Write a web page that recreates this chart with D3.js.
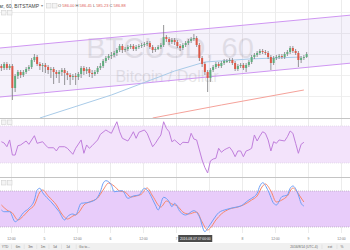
<!DOCTYPE html>
<html>
<head>
<meta charset="utf-8">
<script src="https://cdn.jsdelivr.net/npm/d3@7"></script>
<style>
body { margin: 0; background: #fff; }
svg { display: block; font-family: "Liberation Sans", Arial, sans-serif; }
</style>
</head>
<body>
<svg width="350" height="250"></svg>
<script>
// hourly BTCUSD candles, Bitstamp, starting 2016-08-04 08:00
var candleOpen = [585.4,585.2,585.6,585.2,585.4,583.2,584.4,584.8,584.5,584.8,
  585.1,585.3,586.0,586.3,585.6,585.4,585.5,585.3,585.0,585.1,
  584.8,584.6,584.8,585.0,584.7,584.5,584.3,584.4,584.3,584.6,
  585.2,584.9,585.1,584.7,584.6,584.8,585.2,585.4,585.9,586.2,
  586.4,586.5,586.7,587.0,587.4,587.0,587.1,587.3,587.4,587.1,
  587.3,587.4,587.5,587.6,587.7,587.3,587.0,587.1,587.3,587.5,
  588.3,588.1,587.8,588.0,587.8,587.4,587.2,587.5,587.7,587.9,
  588.1,588.2,587.5,586.2,585.6,584.8,584.2,585.0,585.3,585.6,
  585.4,585.7,585.9,585.9,586.0,585.7,585.1,585.4,585.5,585.2,
  585.5,585.8,586.3,586.5,586.7,586.9,586.8,586.7,586.3,585.7,
  586.2,586.3,586.4,586.3,586.6,586.8,587.2,586.9,586.7,586.0,
  586.2,586.3];
var candleHigh = [585.6,585.8,585.8,585.6,585.6,584.6,585.0,585.0,585.0,585.3,
  585.5,586.2,586.6,586.5,585.8,585.7,585.7,585.5,585.3,585.3,
  585.0,585.0,585.2,585.2,584.9,584.7,584.6,584.7,584.8,585.4,
  585.4,585.3,585.3,585.0,585.0,585.4,585.7,586.1,586.4,586.6,
  586.8,586.9,587.2,587.6,587.6,587.3,587.5,587.6,587.6,587.5,
  587.6,587.7,587.8,587.9,587.9,587.5,587.3,587.5,587.7,589.5,
  588.5,588.3,588.2,588.2,588.0,587.6,587.7,587.9,588.1,588.3,
  588.6,588.4,587.7,586.4,585.8,585.0,585.2,585.5,585.8,585.8,
  585.9,586.1,586.1,586.2,586.2,585.9,585.6,585.7,585.7,585.7,
  586.0,586.5,586.7,586.9,587.1,587.1,587.0,586.9,586.5,586.4,
  586.5,586.6,586.6,586.8,587.0,587.4,587.4,587.1,586.9,586.4,
  586.5,586.8];
var candleLow = [584.9,585.0,585.0,585.0,582.0,582.8,584.1,584.2,584.3,584.6,
  584.9,585.1,585.8,585.4,585.0,584.8,584.7,584.6,584.2,583.6,
  584.2,583.7,584.4,583.5,584.0,583.5,584.0,583.5,584.0,584.2,
  584.5,584.6,584.3,584.2,584.4,584.6,585.0,585.2,585.7,586.0,
  586.1,586.3,586.4,586.8,586.7,586.8,586.9,587.1,586.9,586.9,
  587.1,587.2,587.3,587.4,587.1,586.7,586.8,587.0,587.1,587.3,
  587.8,587.5,587.6,587.5,587.2,586.9,587.0,587.3,587.5,587.7,
  587.9,587.3,585.9,585.3,584.5,582.8,583.8,584.8,585.1,585.2,
  585.2,585.5,585.7,585.7,585.5,584.9,584.9,585.2,585.0,584.8,
  585.3,585.6,586.1,586.3,586.5,586.6,586.5,586.1,585.0,585.5,
  586.0,586.1,586.1,586.1,586.4,586.6,586.7,586.5,585.3,585.7,
  586.0,586.2];
var candleClose = [585.2,585.6,585.2,585.4,583.2,584.4,584.8,584.5,584.8,585.1,
  585.3,586.0,586.3,585.6,585.4,585.5,585.3,585.0,585.1,584.8,
  584.6,584.8,585.0,584.7,584.5,584.3,584.4,584.3,584.6,585.2,
  584.9,585.1,584.7,584.6,584.8,585.2,585.4,585.9,586.2,586.4,
  586.5,586.7,587.0,587.4,587.0,587.1,587.3,587.4,587.1,587.3,
  587.4,587.5,587.6,587.7,587.3,587.0,587.1,587.3,587.5,588.3,
  588.1,587.8,588.0,587.8,587.4,587.2,587.5,587.7,587.9,588.1,
  588.2,587.5,586.2,585.6,584.8,584.2,585.0,585.3,585.6,585.4,
  585.7,585.9,585.9,586.0,585.7,585.1,585.4,585.5,585.2,585.5,
  585.8,586.3,586.5,586.7,586.9,586.8,586.7,586.3,585.7,586.2,
  586.3,586.4,586.3,586.6,586.8,587.2,586.9,586.7,586.0,586.2,
  586.3,586.6];

// moving averages (candle index, price)
var maFastHours = [14, 40, 63, 74, 90, 109];
var maFastValues = [580.2, 582.5, 584.9, 585.8, 586.1, 586.3];
var maSlowHours = [55, 80, 110];
var maSlowValues = [580.2, 581.5, 583.0];

// parallel channel drawing
var channelHours = [0, 128];
var channelUpper = [587.2, 590.5];
var channelLower = [582.3, 585.7];

// RSI (candle index, value)
var rsiHours = [0,1,2,3,4,5,6,7,9,10,12,13,15,16,17,19,20,21,23,24,26,27,29,30,31,32,33,35,36,38,39,40,42,43,44,46,47,48,49,50,52,53,55,56,57,58,59,60,61,62,63,65,66,68,69,70,71,72,73,74,75,76,77,78,79,80,81,82,83,84,85,86,87,88,89,90,91,92,93,94,95,96,97,98,99,100,101,103,104,105,106,107,108,109,110];
var rsiValues = [53.0,51.6,47.6,54.9,38.6,38.6,48.7,49.5,53.8,50.2,59.5,51.3,53.0,49.5,46.5,46.5,43.0,47.6,47.6,45.9,39.4,45.9,54.9,40.5,49.5,45.9,48.7,54.9,61.0,65.7,63.8,62.1,74.6,63.8,56.7,53.8,58.4,63.8,56.7,63.2,65.7,62.1,47.6,51.3,56.0,60.3,74.6,67.5,63.8,53.0,54.9,49.5,52.4,52.0,62.1,55.9,54.9,44.1,33.2,25.1,19.2,32.2,34.3,35.1,45.9,41.6,44.1,45.7,47.0,43.0,36.8,43.0,43.0,36.8,43.0,44.1,45.9,60.3,53.8,59.2,63.8,62.1,54.9,43.0,53.0,51.3,54.9,53.8,58.4,64.6,62.1,51.3,40.5,50.2,52.4];

// Stochastic %K and %D
var stochKHours = [0,1,3,5,6,8,10,12,13,14,15,18,21,23,24,26,27,29,31,34,36,37,38,40,41,44,46,48,50,52,53,56,57,59,61,62,63,65,67,70,72,74,75,77,79,82,85,87,90,91,93,94,95,97,99,100,102,104,105,106,108,109,110];
var stochKValues = [48.3,45.5,45.5,28.8,31.7,43.8,51.2,65.0,81.7,84.5,77.2,62.2,45.5,31.7,37.2,41.7,40.0,59.5,60.5,65.0,78.8,92.8,97.2,90.0,78.8,80.5,67.8,71.7,73.3,84.5,81.7,56.7,48.3,69.5,62.2,53.8,59.5,45.5,40.0,47.2,37.2,12.2,17.8,31.7,43.8,49.5,52.8,55.0,65.0,67.8,76.2,88.3,93.8,80.5,59.5,56.7,70.5,73.3,84.5,88.3,73.3,59.5,55.0];
var stochDHours = [0,2,4,6,8,10,12,14,15,17,20,22,24,26,28,30,32,35,37,39,41,43,45,47,49,51,53,55,58,60,62,64,66,68,71,73,75,76,78,80,83,86,88,91,93,95,96,98,100,102,104,106,107,109,110];
var stochDValues = [56.7,48.3,43.3,31.7,38.3,48.3,56.7,78.3,81.7,71.7,56.7,41.7,33.3,38.3,43.3,56.7,61.7,68.3,81.7,93.3,88.3,80.0,78.3,70.0,71.7,75.0,85.0,71.7,53.3,63.3,58.3,55.0,45.0,41.7,45.0,28.3,15.0,18.3,31.7,41.7,50.0,53.3,56.7,65.0,71.7,88.3,91.7,80.0,61.7,65.0,71.7,85.0,81.7,68.3,61.7];

// time axis
var tickTimes = ["2016-08-04 12:00","2016-08-05 00:00","2016-08-05 12:00","2016-08-06 00:00","2016-08-06 12:00",
  "2016-08-07 00:00","2016-08-07 12:00","2016-08-08 00:00","2016-08-08 12:00","2016-08-09 00:00","2016-08-09 12:00"];
var tickLabels = ["12:00","5","12:00","6","12:00","7","12:00","8","12:00","9","12:00"];
var crosshairTime = "2016-08-07 07:00";

var ohlcLabels = ["O","H","L","C"];
var ohlcValues = ["586.00","586.45","585.23","586.88"];
var rangeButtons = ["YTD","6m","3m","1m","5d","1d","Go to..."];

var svg = d3.select('svg');
var parseTime = d3.timeParse("%Y-%m-%d %H:%M");
var start = parseTime("2016-08-04 08:00");
function hourTime(h) {
  return new Date(start.getTime() + h * 3600000);
}

var x = d3.scaleTime().domain([start, hourTime(128)]).range([0, 352]);
var price = d3.scaleLinear().domain([580.2, 592]).range([118, 0]);
var rsiY = d3.scaleLinear().domain([30, 70]).range([163, 126]);
var stochY = d3.scaleLinear().domain([20, 80]).range([227, 191]);

var upColor = '#5fad7e', downColor = '#dc5a49', wickColor = '#7b7b7d';

// clip areas for the three panes
var defs = svg.append('defs');
[['clip-main', 0, 118], ['clip-rsi', 118.5, 59], ['clip-stoch', 178, 55]].forEach(function(c) {
  defs.append('clipPath').attr('id', c[0])
    .append('rect').attr('x', 0).attr('y', c[1]).attr('width', 350).attr('height', c[2]);
});

// grid
var grid = svg.append('g');
var gridPrices = [590.8, 588.7, 586.6, 584.5, 582.4];
grid.selectAll('.hgrid').data(gridPrices).enter().append('line')
  .attr('x1', 0).attr('x2', 350)
  .attr('y1', function(d) { return Math.round(price(d)) + 0.5; })
  .attr('y2', function(d) { return Math.round(price(d)) + 0.5; })
  .attr('stroke', '#efefef');
grid.selectAll('.vgrid').data(tickTimes).enter().append('line')
  .attr('x1', function(d) { return Math.round(x(parseTime(d))) + 0.5; })
  .attr('x2', function(d) { return Math.round(x(parseTime(d))) + 0.5; })
  .attr('y1', 0).attr('y2', 233)
  .attr('stroke', '#ececec');

// main pane
var main = svg.append('g').attr('clip-path', 'url(#clip-main)');

// watermark
main.append('text')
  .attr('x', 170).attr('y', 58)
  .attr('text-anchor', 'middle')
  .attr('font-size', '29px')
  .attr('fill', '#000').attr('opacity', 0.09)
  .text('BTCUSD, 60');
main.append('text')
  .attr('x', 167).attr('y', 82)
  .attr('text-anchor', 'middle')
  .attr('font-size', '16px')
  .attr('fill', '#000').attr('opacity', 0.09)
  .text('Bitcoin / Dollar');

// channel
var channel = d3.zip(channelHours, channelUpper, channelLower);
main.append('path')
  .datum(channel)
  .attr('d', d3.area()
    .x(function(d) { return x(hourTime(d[0])); })
    .y0(function(d) { return price(d[2]); })
    .y1(function(d) { return price(d[1]); }))
  .attr('fill', '#9a7fd6').attr('opacity', 0.1);
[1, 2].forEach(function(k) {
  main.append('path')
    .datum(channel)
    .attr('d', d3.line()
      .x(function(d) { return x(hourTime(d[0])); })
      .y(function(d) { return price(d[k]); }))
    .attr('fill', 'none').attr('stroke', '#cf96f2').attr('stroke-width', 1);
});

// moving averages
var maLine = d3.line()
  .x(function(d) { return x(hourTime(d[0] + 0.5)); })
  .y(function(d) { return price(d[1]); });
main.append('path').datum(d3.zip(maFastHours, maFastValues))
  .attr('d', maLine).attr('fill', 'none').attr('stroke', '#a9cbe8').attr('stroke-width', 1);
main.append('path').datum(d3.zip(maSlowHours, maSlowValues))
  .attr('d', maLine).attr('fill', 'none').attr('stroke', '#f5a29a').attr('stroke-width', 1);

// candles
var candles = d3.range(candleClose.length).map(function(i) {
  return { i: i, o: candleOpen[i], h: candleHigh[i], l: candleLow[i], c: candleClose[i] };
});
var candle_g = main.selectAll('.candle').data(candles).enter().append('g');
candle_g.append('line')
  .attr('x1', function(d) { return x(hourTime(d.i + 0.5)); })
  .attr('x2', function(d) { return x(hourTime(d.i + 0.5)); })
  .attr('y1', function(d) { return price(d.h); })
  .attr('y2', function(d) { return price(d.l); })
  .attr('stroke', wickColor).attr('stroke-width', 0.8);
candle_g.append('rect')
  .attr('x', function(d) { return x(hourTime(d.i + 0.5)) - 1; })
  .attr('width', 2)
  .attr('y', function(d) { return price(Math.max(d.o, d.c)); })
  .attr('height', function(d) { return Math.max(1, Math.abs(price(d.o) - price(d.c))); })
  .attr('fill', function(d) { return d.c >= d.o ? upColor : downColor; });

// header
var header = svg.append('g');
header.append('text')
  .attr('x', 39).attr('y', 7.5).attr('text-anchor', 'end')
  .attr('font-size', '5px').attr('fill', '#444')
  .text('Bitcoin / Dollar, 60, BITSTAMP');
header.append('text')
  .attr('x', 41).attr('y', 7).attr('font-size', '3.5px').attr('fill', '#888')
  .text('\u25BE');
function toggleBoxes(g, bx, by) {
  [0, 6].forEach(function(dx) {
    g.append('rect').attr('x', bx + dx + 0.5).attr('y', by + 0.5)
      .attr('width', 4.5).attr('height', 4.5)
      .attr('fill', '#f4f4f4').attr('stroke', '#d2d2d2').attr('stroke-width', 0.6);
  });
}
toggleBoxes(header, 46, 3);
toggleBoxes(header, 1, 10);
var ohlc = header.append('text').attr('x', 58).attr('y', 7).attr('font-size', '4px');
ohlcLabels.forEach(function(l, i) {
  ohlc.append('tspan').attr('fill', '#555').text((i ? ' ' : '') + l + ' ');
  ohlc.append('tspan').attr('fill', '#e0605a').text(ohlcValues[i]);
});

// pane separators
svg.append('line').attr('x1', 0).attr('x2', 350).attr('y1', 118.5).attr('y2', 118.5)
  .attr('stroke', '#c4c4c4').attr('stroke-width', 1.2);
svg.append('line').attr('x1', 0).attr('x2', 350).attr('y1', 177.5).attr('y2', 177.5)
  .attr('stroke', '#c4c4c4').attr('stroke-width', 1.2);

// RSI pane
var rsi = svg.append('g').attr('clip-path', 'url(#clip-rsi)');
rsi.append('rect').attr('x', 0).attr('width', 350)
  .attr('y', rsiY(70)).attr('height', rsiY(30) - rsiY(70))
  .attr('fill', '#f3e3fb');
[70, 30].forEach(function(v) {
  rsi.append('line').attr('x1', 0).attr('x2', 350)
    .attr('y1', rsiY(v)).attr('y2', rsiY(v))
    .attr('stroke', '#d8cce0').attr('stroke-width', 0.6).attr('stroke-dasharray', '1,1');
});
rsi.append('path').datum(d3.zip(rsiHours, rsiValues))
  .attr('d', d3.line()
    .x(function(d) { return x(hourTime(d[0] + 0.5)); })
    .y(function(d) { return rsiY(d[1]); }))
  .attr('fill', 'none').attr('stroke', '#c07fdc').attr('stroke-width', 1);
toggleBoxes(svg, 1, 119.5);

// Stochastic pane
var stoch = svg.append('g').attr('clip-path', 'url(#clip-stoch)');
stoch.append('rect').attr('x', 0).attr('width', 350)
  .attr('y', stochY(80)).attr('height', stochY(20) - stochY(80))
  .attr('fill', '#e8ccfa');
[80, 20].forEach(function(v) {
  stoch.append('line').attr('x1', 0).attr('x2', 350)
    .attr('y1', stochY(v)).attr('y2', stochY(v))
    .attr('stroke', '#a9a0b0').attr('stroke-width', 0.6).attr('stroke-dasharray', '1,1');
});
var stochLine = d3.line()
  .x(function(d) { return x(hourTime(d[0] + 0.5)); })
  .y(function(d) { return stochY(d[1]); })
  .curve(d3.curveMonotoneX);
stoch.append('path').datum(d3.zip(stochDHours, stochDValues))
  .attr('d', stochLine).attr('fill', 'none').attr('stroke', '#f7876a').attr('stroke-width', 1);
stoch.append('path').datum(d3.zip(stochKHours, stochKValues))
  .attr('d', stochLine).attr('fill', 'none').attr('stroke', '#6e9ff7').attr('stroke-width', 1);
toggleBoxes(svg, 1, 180);

// time axis; labels under the crosshair tag are hidden like in the terminal
var tagX = x(parseTime(crosshairTime));
var tagW = 34;
var axis = d3.axisBottom(x)
  .tickValues(tickTimes.map(parseTime))
  .tickSize(0)
  .tickFormat(function(d, i) { return tickLabels[i]; });
var axis_g = svg.append('g').attr('transform', 'translate(0,235)').call(axis);
axis_g.select('.domain').remove();
axis_g.selectAll('text').attr('font-size', '3.4px').attr('fill', '#777').attr('dy', '0.5em')
  .attr('font-family', '"Liberation Sans", Arial, sans-serif');
axis_g.selectAll('.tick')
  .filter(function(d) { return Math.abs(x(d) - tagX) < tagW / 2 + 2; })
  .remove();

// crosshair time tag
svg.append('rect').attr('x', tagX - tagW / 2).attr('y', 235).attr('width', tagW).attr('height', 7)
  .attr('fill', '#4b4b4b');
svg.append('text').attr('x', tagX).attr('y', 239.7).attr('text-anchor', 'middle')
  .attr('font-size', '3.3px').attr('fill', '#fff').text('2016-08-07 07:00:00');

// bottom toolbar
var bar = svg.append('g');
bar.append('rect').attr('x', 0).attr('y', 243).attr('width', 350).attr('height', 7).attr('fill', '#f0f0f0');
var btnX = [5, 18, 30.5, 43, 55, 68, 84.5];
rangeButtons.forEach(function(b, i) {
  bar.append('text').attr('x', btnX[i]).attr('y', 247.8).attr('text-anchor', 'middle')
    .attr('font-size', '3.3px').attr('fill', '#666').text(b);
  if (i < rangeButtons.length - 1) {
    bar.append('line').attr('x1', (btnX[i] + btnX[i + 1]) / 2).attr('x2', (btnX[i] + btnX[i + 1]) / 2)
      .attr('y1', 244.5).attr('y2', 249).attr('stroke', '#dcdcdc').attr('stroke-width', 0.6);
  }
});
bar.append('text').attr('x', 304).attr('y', 247.8).attr('text-anchor', 'middle')
  .attr('font-size', '3.3px').attr('fill', '#666').text('2016/8/14 (UTC-4)');
bar.append('text').attr('x', 330).attr('y', 247.8).attr('text-anchor', 'middle')
  .attr('font-size', '3.3px').attr('fill', '#666').text('ext');
bar.append('text').attr('x', 342).attr('y', 247.8).attr('text-anchor', 'middle')
  .attr('font-size', '3.3px').attr('fill', '#666').text('%');
[322, 337].forEach(function(sx) {
  bar.append('line').attr('x1', sx).attr('x2', sx).attr('y1', 244.5).attr('y2', 249)
    .attr('stroke', '#dcdcdc').attr('stroke-width', 0.6);
});
</script>
</body>
</html>
